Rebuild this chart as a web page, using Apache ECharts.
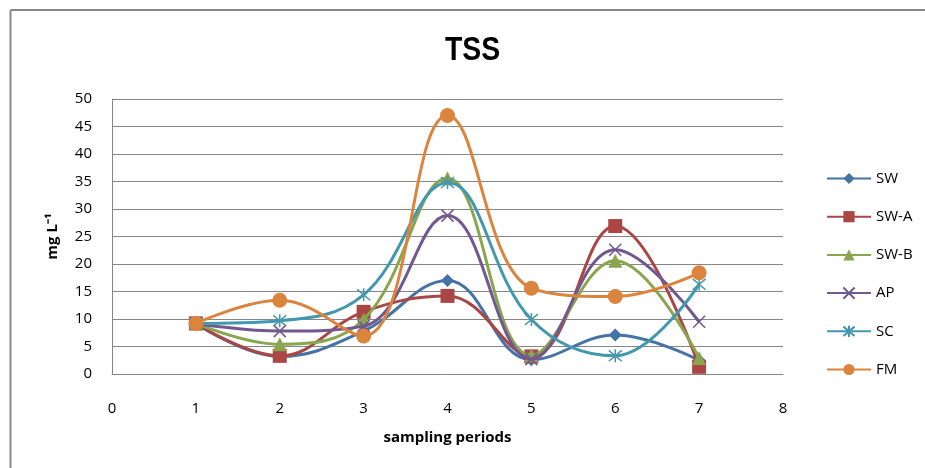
<!DOCTYPE html>
<html>
<head>
<meta charset="utf-8">
<script src="https://cdn.jsdelivr.net/npm/echarts@6/dist/echarts.min.js"></script>
<style>html,body{margin:0;padding:0;background:#fff}#c{width:925px;height:468px}</style>
</head>
<body>
<div id="c"></div>
<script>
const periods = [1, 2, 3, 4, 5, 6, 7];
const SW   = [9.2, 3.2, 7.8, 17.0, 2.6, 7.1, 2.5];
const SWA  = [9.2, 3.3, 11.3, 14.2, 3.2, 26.9, 1.3];
const SWB  = [9.2, 5.4, 9.9, 35.6, 3.4, 20.6, 2.9];
const AP   = [9.2, 7.8, 8.7, 28.8, 2.7, 22.6, 9.5];
const SC   = [9.2, 9.7, 14.4, 34.8, 9.9, 3.3, 16.3];
const FM   = [9.2, 13.4, 6.9, 47.0, 15.6, 14.1, 18.4];
const seriesNames = ['SW', 'SW-A', 'SW-B', 'AP', 'SC', 'FM'];
const seriesData = [SW, SWA, SWB, AP, SC, FM];
const yTicks = [0, 5, 10, 15, 20, 25, 30, 35, 40, 45, 50];
const titleText = 'TSS';

const colors = ['#4572A7', '#AA4643', '#89A54E', '#71588F', '#4198AF', '#DB843D'];
const symbols = [
  'diamond', 'rect', 'triangle',
  'path://M0,0L10,10M10,0L0,10',
  'path://M0,0L10,10M10,0L0,10M5,-1L5,11',
  'circle'
];
const sizes = [13, 14, 14, 12, 13, 15];
const font = 'Open Sans, Liberation Sans, sans-serif';

const chart = echarts.init(document.getElementById('c'));
chart.setOption({
  animation: false,
  grid: { left: 112, right: 142, top: 99, bottom: 94 },
  legend: {
    orient: 'vertical', left: 821, top: 166,
    itemWidth: 44, itemHeight: 14, itemGap: 23.2,
    textStyle: { fontFamily: font, fontSize: 15, color: '#000' },
    data: seriesNames
  },
  xAxis: {
    type: 'value', min: 0, max: 8, interval: 1,
    name: 'sampling periods', nameLocation: 'middle', nameGap: 56,
    nameTextStyle: { fontFamily: font, fontSize: 15, fontWeight: 'bold', color: '#000' },
    axisLine: { show: true, onZero: false, lineStyle: { color: '#868686', width: 1 } },
    axisTick: { show: false },
    axisLabel: { fontFamily: font, fontSize: 15, color: '#000', margin: 27 },
    splitLine: { show: false }
  },
  yAxis: {
    type: 'value', min: 0, max: 50, interval: 5,
    name: 'mg L\u207B\u00B9', nameLocation: 'middle', nameGap: 52, nameRotate: 90,
    nameTextStyle: { fontFamily: font, fontSize: 15, fontWeight: 'bold', color: '#000' },
    axisLine: { show: true, lineStyle: { color: '#868686', width: 1 } },
    axisTick: { show: false },
    axisLabel: { fontFamily: font, fontSize: 15, color: '#000', margin: 20,
      formatter: v => yTicks.includes(v) ? String(v) : '' },
    splitLine: { show: true, lineStyle: { color: '#868686', width: 1 } }
  },
  series: seriesNames.map((n, i) => ({
    name: n, type: 'line', smooth: 0.4,
    data: periods.map((p, j) => [p, seriesData[i][j]]),
    symbol: symbols[i], symbolSize: sizes[i],
    lineStyle: { color: colors[i], width: 3 },
    itemStyle: (i === 3 || i === 4)
      ? { color: colors[i], borderColor: colors[i], borderWidth: 1.5 }
      : { color: colors[i], borderColor: colors[i], borderWidth: 0 },
    z: 2 + i
  })),
  graphic: [
    { type: 'line', shape: { x1: 10.5, y1: 10, x2: 925, y2: 10 }, style: { stroke: '#888', lineWidth: 2 } },
    { type: 'line', shape: { x1: 10.5, y1: 10, x2: 10.5, y2: 468 }, style: { stroke: '#888', lineWidth: 2 } },
    { type: 'text', x: 472.5, y: 50.5, scaleX: 0.86, originX: 0, originY: 0,
      style: { text: titleText, fontFamily: 'Liberation Sans', fontSize: 33, fontWeight: 'bold',
               fill: '#000', align: 'center', verticalAlign: 'middle' } }
  ]
});
</script>
</body>
</html>
